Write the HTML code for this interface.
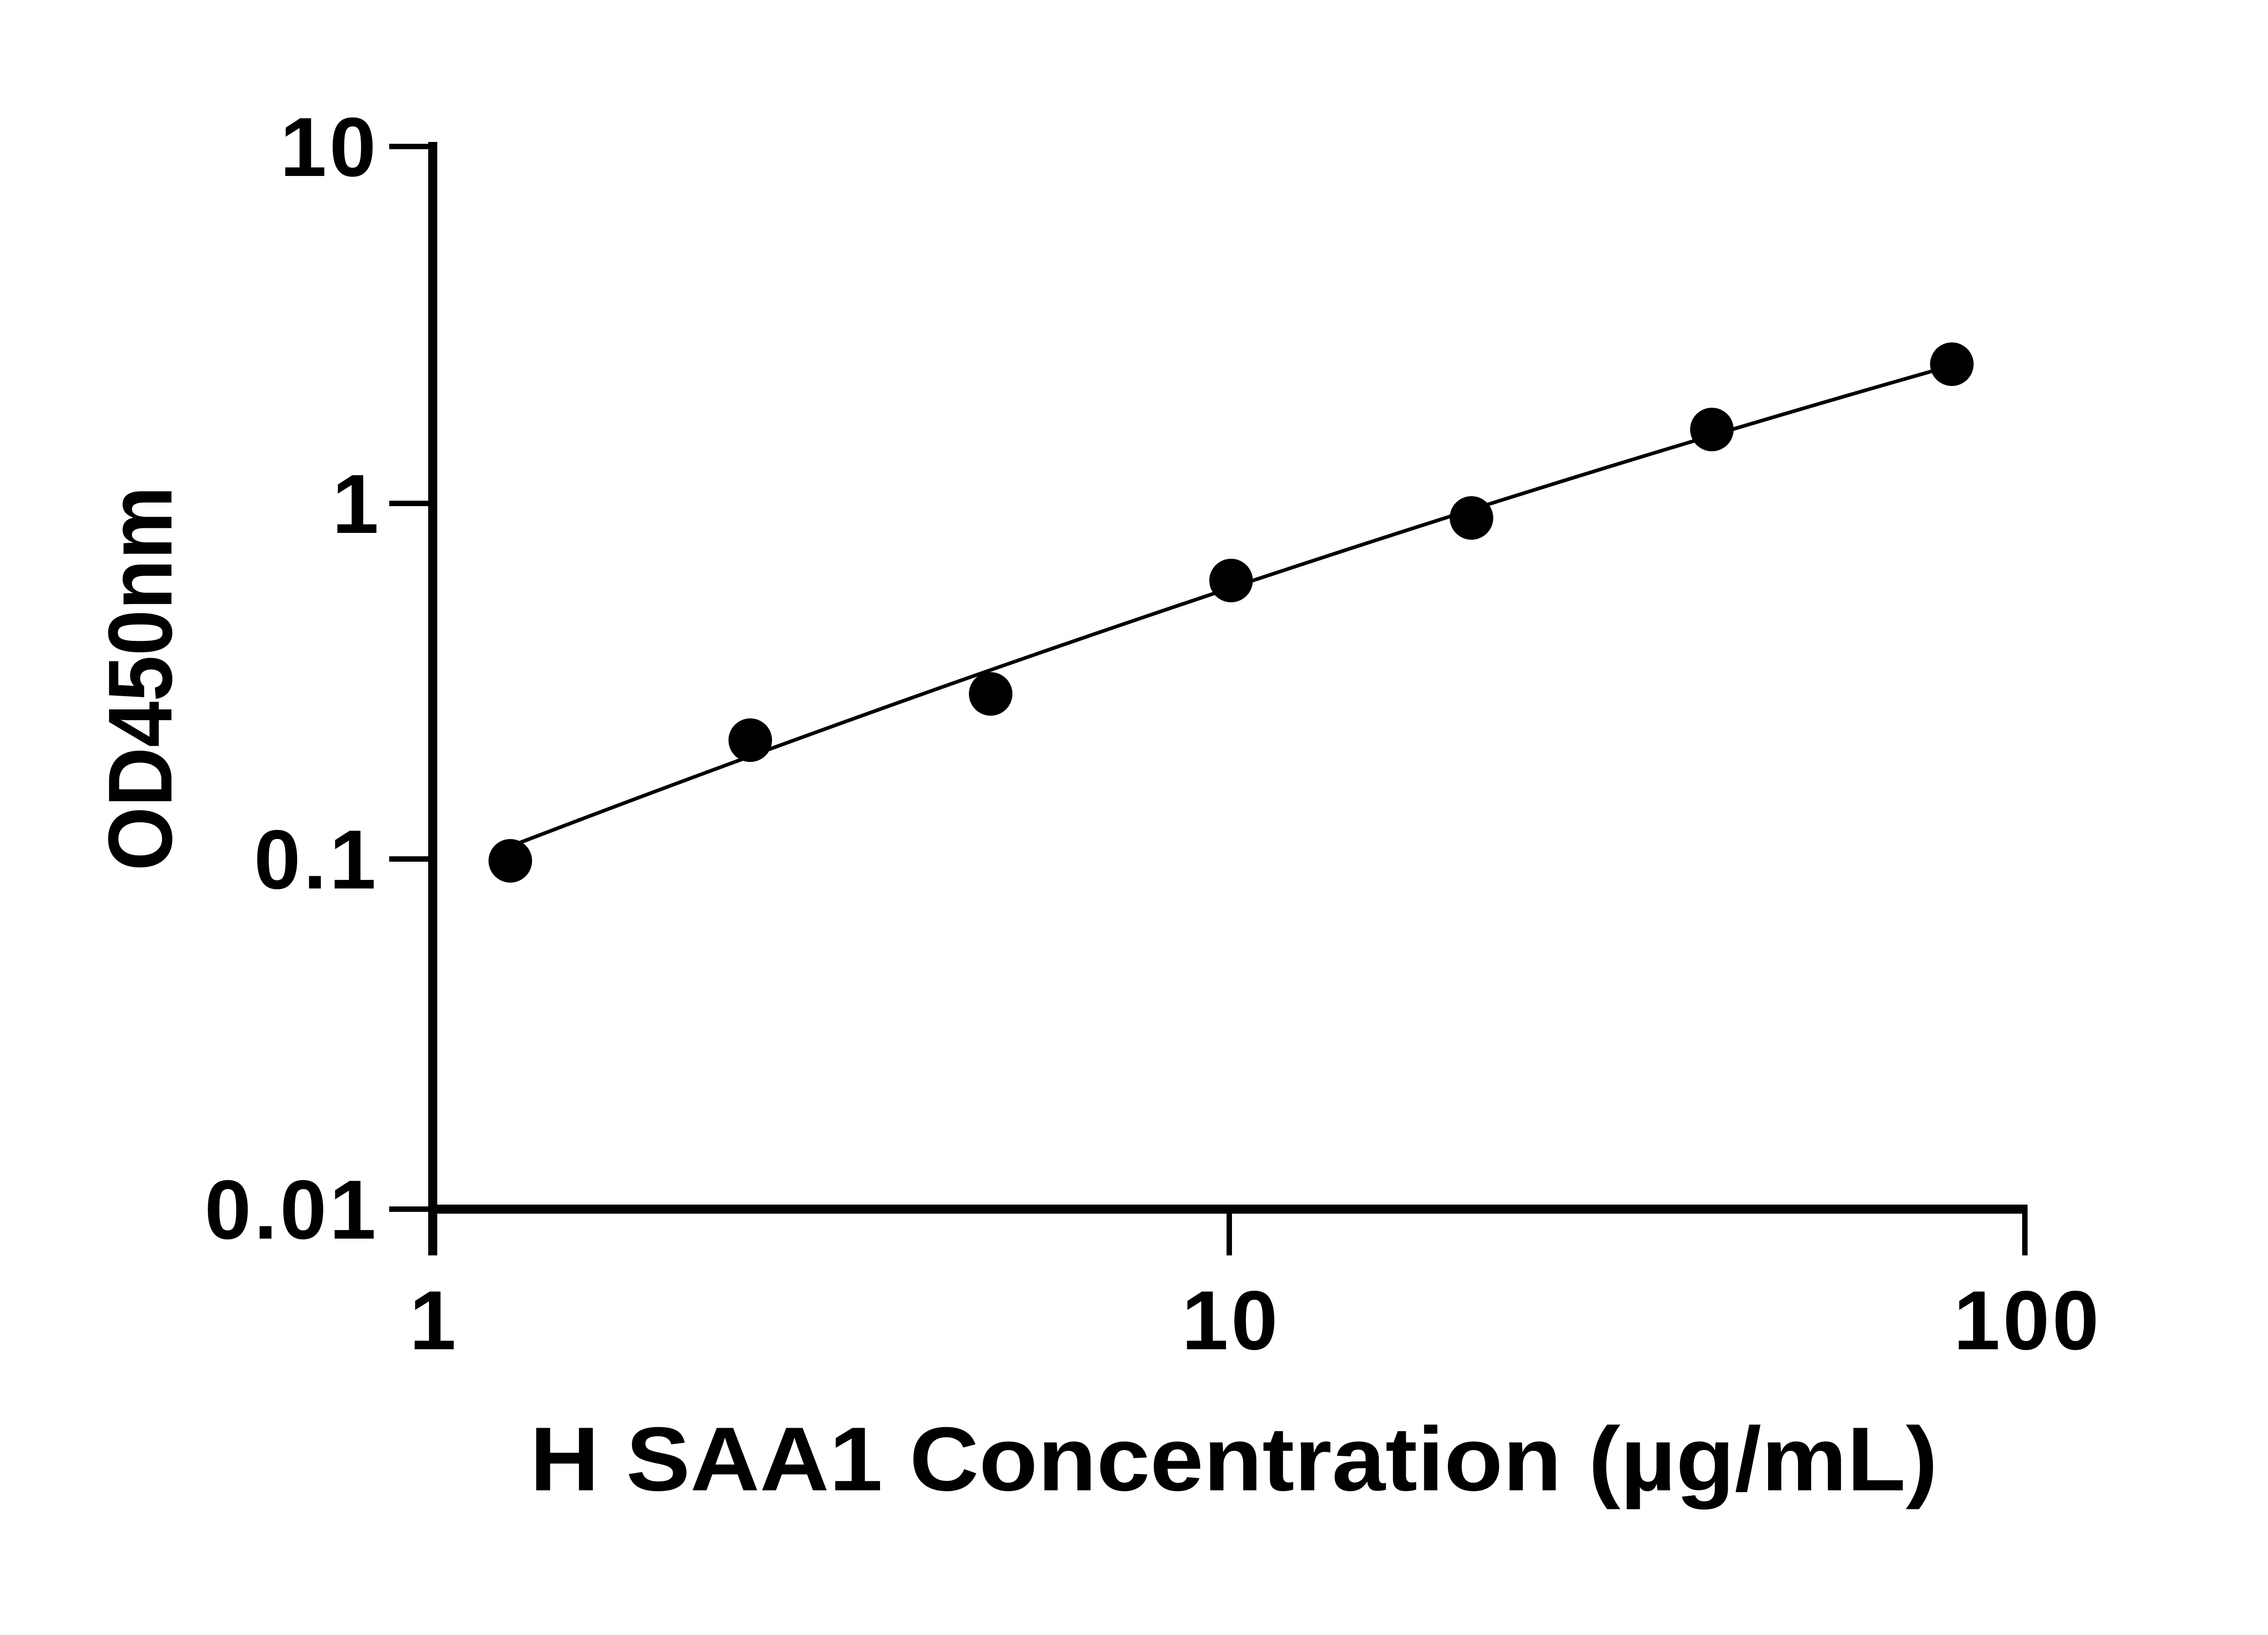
<!DOCTYPE html>
<html><head><style>html,body{margin:0;padding:0;background:#fff}</style></head>
<body>
<svg width="5130" height="3600" viewBox="0 0 5130 3600" xmlns="http://www.w3.org/2000/svg">
<rect width="5130" height="3600" fill="#fff"/>
<g stroke="#000" fill="none">
<line x1="954" y1="313" x2="954" y2="2768" stroke-width="20"/>
<line x1="944" y1="2666" x2="4470" y2="2666" stroke-width="20"/>
<g stroke-width="12">
<line x1="858" y1="323" x2="954" y2="323"/>
<line x1="858" y1="1110" x2="954" y2="1110"/>
<line x1="858" y1="1894" x2="954" y2="1894"/>
<line x1="858" y1="2666" x2="954" y2="2666"/>
<line x1="2710" y1="2666" x2="2710" y2="2768"/>
<line x1="4464" y1="2666" x2="4464" y2="2768"/>
</g>
<path d="M1125 1866 Q2714 1256 4303 806" stroke-width="8"/>
</g>
<g fill="#000">
<circle cx="1125" cy="1898" r="48"/>
<circle cx="1654" cy="1632" r="48"/>
<circle cx="2184" cy="1530" r="48"/>
<circle cx="2714" cy="1280" r="48"/>
<circle cx="3244" cy="1142" r="48"/>
<circle cx="3774" cy="947" r="48"/>
<circle cx="4303" cy="803" r="48"/>
</g>
<g font-family="Liberation Sans, sans-serif" font-weight="bold" font-size="185" fill="#000" text-anchor="end">
<text x="835" y="388" letter-spacing="6">10</text>
<text x="835" y="1175">1</text>
<text x="835" y="1959" letter-spacing="6">0.1</text>
<text x="835" y="2731" letter-spacing="6">0.01</text>
</g>
<g font-family="Liberation Sans, sans-serif" font-weight="bold" font-size="185" fill="#000" text-anchor="middle">
<text x="954" y="2975">1</text>
<text x="2714" y="2975" letter-spacing="6">10</text>
<text x="4470" y="2975" letter-spacing="6">100</text>
</g>
<text x="1168" y="3286" font-family="Liberation Sans, sans-serif" font-weight="bold" font-size="200" textLength="3104" lengthAdjust="spacingAndGlyphs">H SAA1 Concentration (µg/mL)</text>
<text transform="translate(378,1920) rotate(-90)" font-family="Liberation Sans, sans-serif" font-weight="bold" font-size="200" textLength="848" lengthAdjust="spacingAndGlyphs">OD450nm</text>
</svg>
</body></html>
